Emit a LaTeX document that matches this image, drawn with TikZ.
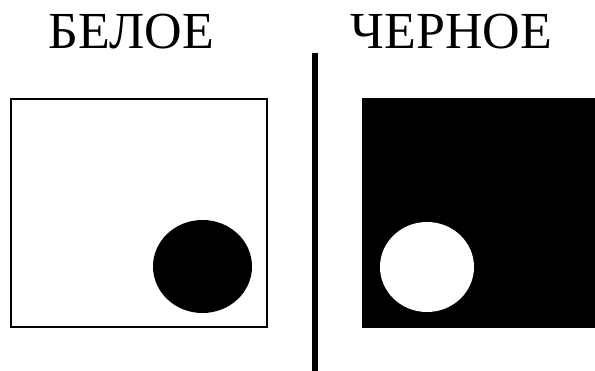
\documentclass[tikz,border=0pt]{standalone}
\usepackage{fontspec}
\setmainfont{Liberation Serif}
\tikzset{
  title/.style={inner sep=0pt, anchor=base, font=\fontsize{52}{52}\selectfont},
}
\begin{document}
\begin{tikzpicture}[x=1pt,y=-1pt]
\useasboundingbox (0,0) rectangle (595,371);
\node[title] (tw) at (131.5,48.5) {БЕЛОЕ};
\node[title] (tb) at (451.5,48.5) {ЧЕРНОЕ};
% left white square
\draw[line width=2pt] (11,99) rectangle (267,327.5);
\fill[black] (202.5,266.5) ellipse [x radius=49.5, y radius=46.5];
% divider
\fill[black] (312,53) rectangle (318,371);
% right black square
\fill[black] (362,98.5) rectangle (595,328);
\fill[white] (427,267) ellipse [x radius=47, y radius=45];
\end{tikzpicture}
\end{document}
